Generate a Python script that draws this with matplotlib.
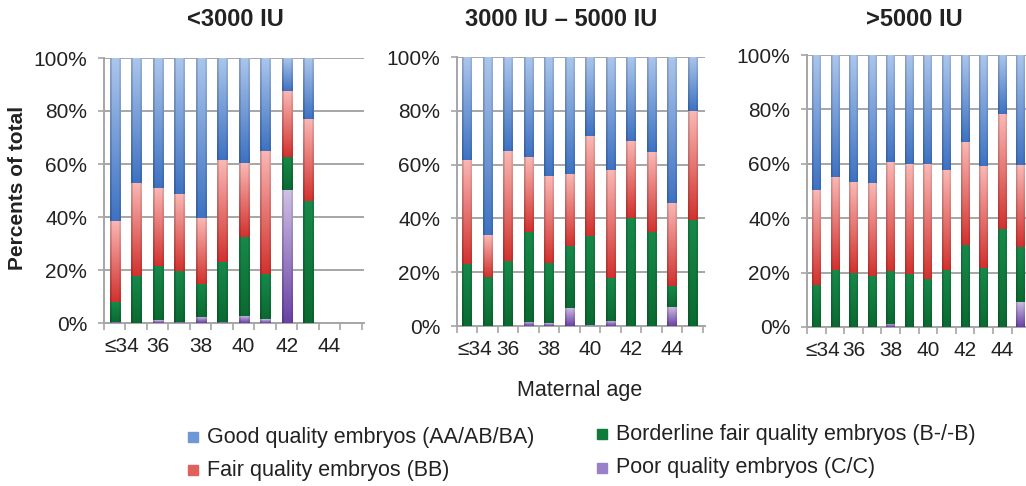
import numpy as np
import matplotlib
matplotlib.use("Agg")
import matplotlib.pyplot as plt
from matplotlib.colors import to_rgb

plt.rcParams['font.family'] = ['Liberation Sans', 'DejaVu Sans']

# Maternal age categories
ages = ['≤34', '35', '36', '37', '38', '39', '40', '41', '42', '43', '44', '45']
tick_labels = ['≤34', '36', '38', '40', '42', '44']

# <3000 IU (percent of total)
low_poor = [0.5, 0, 1, 0.5, 2.4, 0.5, 2.8, 1.5, 50, 0, 0, 0]
low_border = [7.5, 17.9, 20.4, 19, 12.2, 22.6, 29.7, 16.9, 12.5, 45.9, 0, 0]
low_fair = [30.6, 35.1, 29.6, 29.2, 24.9, 38.4, 27.8, 46.6, 24.9, 31.1, 0, 0]
low_good = [61.4, 47, 49, 51.3, 60.5, 38.5, 39.7, 35, 12.6, 23, 0, 0]

# 3000 IU - 5000 IU
mid_poor = [0, 0, 0, 1.5, 1, 6.8, 0.3, 2, 0, 0, 7.2, 0]
mid_border = [23, 18.4, 24, 33.6, 22.3, 23, 33.2, 15.7, 40, 34.9, 7.7, 39.5]
mid_fair = [38.8, 15.5, 41.1, 27.6, 32.3, 26.8, 37, 40.4, 28.9, 29.6, 31, 40.3]
mid_good = [38.2, 66.1, 34.9, 37.3, 44.4, 43.4, 29.5, 41.9, 31.1, 35.5, 54.1, 20.2]

# >5000 IU
high_poor = [0, 0, 0, 0, 1.2, 0, 0, 0, 0, 0, 0, 9.2]
high_border = [15.6, 20.9, 20, 18.7, 19.3, 19.6, 17.8, 21.1, 30.1, 21.7, 36.2, 20.2]
high_fair = [34.7, 34.3, 33.4, 34.1, 40.2, 40.3, 42.1, 36.6, 37.8, 37.6, 42.1, 30.1]
high_good = [49.7, 44.8, 46.6, 47.2, 39.3, 40.1, 40.1, 42.3, 32.1, 40.7, 21.7, 40.5]

titles = ['<3000 IU', '3000 IU – 5000 IU', '>5000 IU']
series_names = ['Good quality embryos (AA/AB/BA)', 'Fair quality embryos (BB)',
                'Borderline fair quality embryos (B-/-B)', 'Poor quality embryos (C/C)']

# gradient colours (bottom, top) per series, stacking order bottom -> top
grad = {
    'poor': ('#6a42a6', '#cfc0e4'),
    'border': ('#0b6a31', '#17894a'),
    'fair': ('#d2322e', '#fab8b5'),
    'good': ('#3e72c2', '#abc6ec'),
}
legend_cols = {'good': '#6d97d6', 'fair': '#e0605e', 'border': '#0f7a3a', 'poor': '#9a80c8'}

W, H = 1026, 486
fig = plt.figure(figsize=(W / 100, H / 100), dpi=100)

# axes boxes in pixels: left, right, top, bottom
boxes = [(104, 364, 58, 323), (457, 705, 57, 326), (807, 1032, 55, 327)]
title_x = [235, 561, 914]
panels = [
    (low_poor, low_border, low_fair, low_good),
    (mid_poor, mid_border, mid_fair, mid_good),
    (high_poor, high_border, high_fair, high_good),
]


def shade(ax, patch, c_bot, c_top):
    h = patch.get_height()
    if h <= 0:
        patch.set_visible(False)
        return
    x0, y0, w = patch.get_x(), patch.get_y(), patch.get_width()
    t = np.linspace(0, 1, 80)[:, None, None]
    col = np.array(to_rgb(c_bot)) * (1 - t) + np.array(to_rgb(c_top)) * t
    side = np.ones(12)
    side[:2] = 0.82
    side[-2:] = 0.9
    img = np.clip(col * side[None, :, None], 0, 1)
    ax.imshow(img, extent=(x0, x0 + w, y0, y0 + h), origin='lower',
              aspect='auto', zorder=3, interpolation='bilinear')
    patch.set_visible(False)


x = np.arange(len(ages))
for i, (vals, box) in enumerate(zip(panels, boxes)):
    l, r, t, b = box
    ax = fig.add_axes([l / W, 1 - b / H, (r - l) / W, (b - t) / H])
    poor, border, fair, good = [np.array(v, dtype=float) for v in vals]
    bottom = np.zeros(len(ages))
    for key, v in zip(['poor', 'border', 'fair', 'good'], [poor, border, fair, good]):
        bars = ax.bar(x, v, 0.47, bottom=bottom, color=legend_cols[key], zorder=3)
        for p in bars:
            shade(ax, p, *grad[key])
        bottom = bottom + v
    ax.set_xlim(-0.5, 11.6)
    ax.set_ylim(0, 100)
    ax.set_yticks(np.arange(0, 101, 20))
    ax.set_yticklabels([f'{v}%' for v in range(0, 101, 20)], fontsize=15, color='#222222')
    ax.yaxis.grid(True, color='#a6a6a6', lw=1.4, zorder=1)
    ax.set_axisbelow(True)
    ax.set_xticks(x[::2] + np.array([0.35, 0, 0, 0, 0, 0]))
    ax.set_xticklabels(tick_labels, fontsize=15, color='#222222')
    ax.set_xticks(np.arange(-0.5, 12, 1.0), minor=True)
    ax.tick_params(axis='x', which='major', length=0, pad=10)
    ax.tick_params(axis='x', which='minor', length=5, color='#a6a6a6', width=1.2)
    ax.tick_params(axis='y', length=4, color='#a6a6a6', width=1.2, pad=8)
    for s in ['top', 'right']:
        ax.spines[s].set_visible(False)
    for s in ['left', 'bottom']:
        ax.spines[s].set_color('#a6a6a6')
        ax.spines[s].set_linewidth(1.4)
    fig.text(title_x[i] / W, 1 - 19 / H, titles[i], fontsize=17, fontweight='bold',
             ha='center', va='center', color='#222222')

fig.text(18 / W, 1 - 188 / H, 'Percents of total', rotation=90, fontsize=15,
         fontweight='bold', ha='center', va='center', color='#222222')
fig.text(580 / W, 1 - 390 / H, 'Maternal age', fontsize=15.5, ha='center', va='center',
         color='#222222')

# legend
leg_items = [('good', 193, 437), ('fair', 193, 470), ('border', 602, 434), ('poor', 602, 468)]
for (key, lx, ly), name in zip(leg_items, series_names):
    fig.patches.append(plt.Rectangle(((lx - 5) / W, 1 - (ly + 5) / H), 10 / W, 10 / H,
                                     transform=fig.transFigure, color=legend_cols[key]))
    fig.text((lx + 14) / W, 1 - ly / H, name, fontsize=15.5, ha='left', va='center',
             color='#222222')

fig.savefig('out.png', dpi=100)
